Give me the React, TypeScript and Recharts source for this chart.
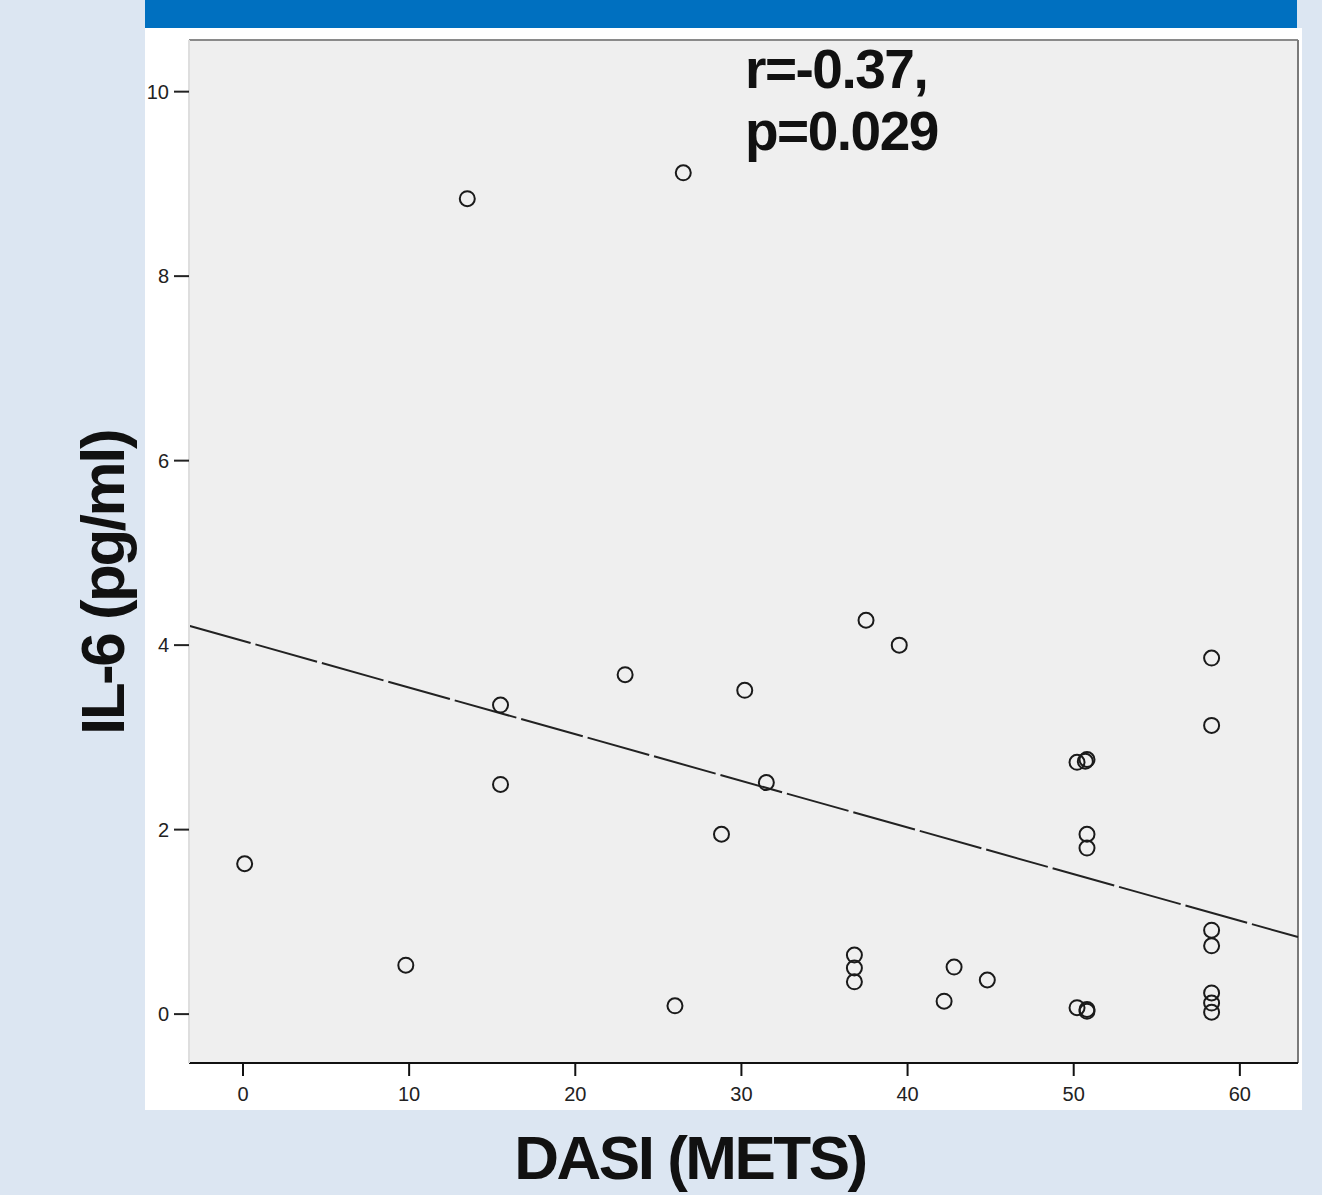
import React from 'react';
import {
    ScatterChart,
    Scatter,
    XAxis,
    YAxis,
    ReferenceArea,
    ReferenceLine
} from 'recharts';

if (typeof document !== 'undefined') {
    document.body.style.margin = '0';
}

// DASI (METS) vs IL-6 (pg/ml)
const dasiValues = [
    0.1, 9.8, 13.5, 15.5, 15.5, 23.0, 26.0, 26.5, 28.8, 30.2, 31.5,
    36.8, 36.8, 36.8, 37.5, 39.5, 42.2, 42.8, 44.8,
    50.2, 50.8, 50.7, 50.8, 50.8, 50.2, 50.8, 50.8,
    58.3, 58.3, 58.3, 58.3, 58.3, 58.3, 58.3
];
const il6Values = [
    1.63, 0.53, 8.84, 3.35, 2.49, 3.68, 0.09, 9.12, 1.95, 3.51, 2.51,
    0.64, 0.50, 0.35, 4.27, 4.0, 0.14, 0.51, 0.37,
    2.73, 2.76, 2.74, 1.95, 1.80, 0.07, 0.05, 0.03,
    3.86, 3.13, 0.91, 0.74, 0.23, 0.12, 0.02
];

const xTicks = [0, 10, 20, 30, 40, 50, 60];
const yTicks = [0, 2, 4, 6, 8, 10];
const xDomain = [-3.25, 63.5];
const yDomain = [-0.53, 10.56];

// fit line end points (at the plot edges)
const fitStart = { x: -3.25, y: 4.21 };
const fitEnd = { x: 63.5, y: 0.835 };

const points = dasiValues.map((d, i) => ({ dasi: d, il6: il6Values[i] }));

const FONT = '"Liberation Sans", Arial, sans-serif';

const OpenCircle = (props: any) => {
    const { cx, cy } = props;
    if (cx == null || cy == null) return null;
    return <circle cx={cx} cy={cy} r={7.5} fill="none" stroke="#1a1a1a" strokeWidth={2} />;
};

export default function App() {
    return (
        <div style={{ position: 'relative', width: 1322, height: 1195, background: '#dce6f2', overflow: 'hidden' }}>
            {/* blue header strip and white panel */}
            <div style={{ position: 'absolute', left: 145, top: 0, width: 1152, height: 28, background: '#0070c0' }} />
            <div style={{ position: 'absolute', left: 145, top: 28, width: 1157, height: 1082, background: '#ffffff' }} />

            <div style={{ position: 'absolute', left: 0, top: 0 }}>
                <ScatterChart
                    width={1322}
                    height={1195}
                    margin={{ top: 40, right: 24, bottom: 82, left: 129 }}
                >
                    <XAxis
                        type="number"
                        dataKey="dasi"
                        domain={xDomain}
                        ticks={xTicks}
                        allowDataOverflow={true}
                        height={50}
                        tickSize={13}
                        tickMargin={11}
                        axisLine={{ stroke: '#111', strokeWidth: 2 }}
                        tickLine={{ stroke: '#111', strokeWidth: 2 }}
                        tick={{ fontSize: 20, fill: '#222', fontFamily: FONT }}
                    />
                    <YAxis
                        type="number"
                        dataKey="il6"
                        domain={yDomain}
                        ticks={yTicks}
                        allowDataOverflow={true}
                        width={60}
                        tickSize={15}
                        tickMargin={5}
                        axisLine={{ stroke: '#dedede', strokeWidth: 2 }}
                        tickLine={{ stroke: '#222', strokeWidth: 2 }}
                        tick={{ fontSize: 20, fill: '#222', fontFamily: FONT }}
                    />
                    <ReferenceArea
                        x1={xDomain[0]}
                        x2={xDomain[1]}
                        y1={yDomain[0]}
                        y2={yDomain[1]}
                        fill="#efefef"
                        fillOpacity={1}
                        stroke="none"
                        ifOverflow="hidden"
                    />
                    <ReferenceLine y={yDomain[1]} stroke="#8a8a8a" strokeWidth={2} />
                    <ReferenceLine x={xDomain[1]} stroke="#7a7a7a" strokeWidth={2} />
                    <ReferenceLine
                        segment={[fitStart, fitEnd]}
                        stroke="#222"
                        strokeWidth={2}
                        strokeDasharray="64 5"
                        ifOverflow="visible"
                    />
                    <Scatter
                        data={points}
                        shape={OpenCircle}
                        isAnimationActive={false}
                    />
                </ScatterChart>
            </div>

            {/* titles and stats */}
            <svg
                width={1322}
                height={1195}
                style={{ position: 'absolute', left: 0, top: 0, pointerEvents: 'none' }}
            >
                <g fontFamily={FONT} fontWeight="bold" fill="#111">
                    <text x={745} y={88} fontSize={55} letterSpacing={-1.5}>r=-0.37,</text>
                    <text x={745} y={150} fontSize={55} letterSpacing={-1.5}>p=0.029</text>
                    <text x={690} y={1179} fontSize={62} letterSpacing={-2.5} textAnchor="middle">DASI (METS)</text>
                    <text
                        x={124}
                        y={583}
                        fontSize={62}
                        letterSpacing={-2.5}
                        textAnchor="middle"
                        transform="rotate(-90 124 583)"
                    >
                        IL-6 (pg/ml)
                    </text>
                </g>
            </svg>
        </div>
    );
}
